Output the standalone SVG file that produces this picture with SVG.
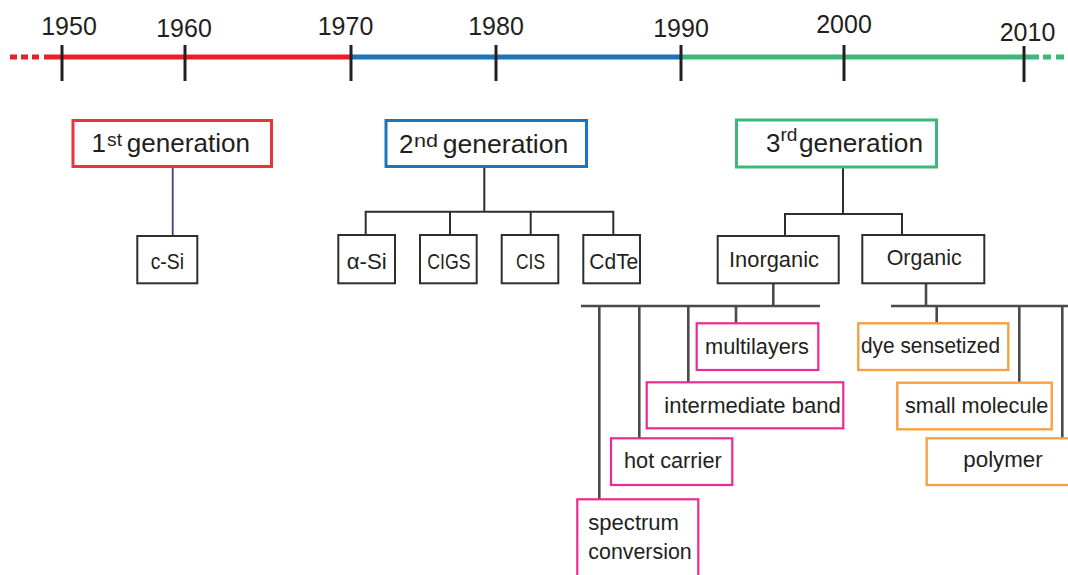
<svg xmlns="http://www.w3.org/2000/svg" width="1068" height="575" viewBox="0 0 1068 575">
<style>
text{font-family:"Liberation Sans",Arial,sans-serif;fill:#231f20}
.yr{font-size:25px;text-anchor:middle}
.gen{font-size:26px}
.sup{font-size:18px}
.lbl{font-size:22px}
.box{fill:#fff;stroke:#2e2e2e;stroke-width:2}
.pink{fill:#fff;stroke:#ec2a91;stroke-width:2.2}
.orng{fill:#fff;stroke:#f7a145;stroke-width:2.4}
.tick{stroke:#231f20;stroke-width:3}
.ln{stroke:#2e2e2e;stroke-width:2;fill:none}
.ln3{stroke:#4a4a4a;stroke-width:2.6;fill:none}
</style>
<rect width="1068" height="575" fill="#fff"/>
<g id="timeline">
<line x1="10" y1="57" x2="40" y2="57" stroke="#e8202a" stroke-width="5" stroke-dasharray="7,4"/>
<line x1="44" y1="57" x2="351" y2="57" stroke="#e8202a" stroke-width="5"/>
<line x1="351" y1="57" x2="681" y2="57" stroke="#1a75bc" stroke-width="5"/>
<line x1="681" y1="57" x2="1039" y2="57" stroke="#3cb878" stroke-width="5"/>
<line x1="1043" y1="57" x2="1068" y2="57" stroke="#3cb878" stroke-width="5" stroke-dasharray="8,5"/>
<line class="tick" x1="62" y1="45" x2="62" y2="81"/>
<line class="tick" x1="185" y1="45" x2="185" y2="81"/>
<line class="tick" x1="351" y1="45" x2="351" y2="81"/>
<line class="tick" x1="496" y1="45" x2="496" y2="81"/>
<line class="tick" x1="681" y1="45" x2="681" y2="81"/>
<line class="tick" x1="844" y1="45" x2="844" y2="81"/>
<line class="tick" x1="1024" y1="46" x2="1024" y2="82"/>
<text class="yr" x="69" y="34.5">1950</text>
<text class="yr" x="184" y="37">1960</text>
<text class="yr" x="345.5" y="34.5">1970</text>
<text class="yr" x="496" y="34.5">1980</text>
<text class="yr" x="681" y="37">1990</text>
<text class="yr" x="844" y="32.6">2000</text>
<text class="yr" x="1027.5" y="40.5">2010</text>
</g>
<g id="connectors">
<line x1="172.7" y1="167" x2="172.7" y2="236" stroke="#3d3d85" stroke-width="1.8"/>
<path class="ln" d="M484.3 167V211.7M365.7 235V211.7H613.3V235M450 211.7V235M530.7 211.7V235"/>
<path class="ln" d="M843 167V214M785 235V214H902V235"/>
<path class="ln3" d="M773.3 283.5V306M581 306H820M599.3 306V499.3M639.3 306V438.3M688.3 306V382.3M736 306V323.3"/>
<path class="ln3" d="M926 283.5V306M891 306H1068M936.7 306V323.3M1019.3 306V382.3M1062.3 306V438.3"/>
</g>
<g id="gen1">
<rect x="73" y="120.5" width="198.5" height="46" fill="#fff" stroke="#e8343c" stroke-width="3"/>
<text class="gen" x="91.5" y="151.7">1</text>
<text class="sup" x="107" y="146" textLength="15" lengthAdjust="spacingAndGlyphs">st</text>
<text class="gen" x="126.7" y="151.7" textLength="123.3" lengthAdjust="spacingAndGlyphs">generation</text>
</g>
<g id="gen2">
<rect x="386" y="120.5" width="200.5" height="46" fill="#fff" stroke="#1a75bc" stroke-width="3"/>
<text class="gen" x="399" y="152.7">2</text>
<text class="sup" x="414" y="146.5" textLength="24" lengthAdjust="spacingAndGlyphs">nd</text>
<text class="gen" x="442.7" y="152.7" textLength="125.6" lengthAdjust="spacingAndGlyphs">generation</text>
</g>
<g id="gen3">
<rect x="736.5" y="120" width="200" height="47" fill="#fff" stroke="#3cb878" stroke-width="3"/>
<text class="gen" x="766" y="151.7">3</text>
<text class="sup" x="780.5" y="140.5" textLength="17" lengthAdjust="spacingAndGlyphs">rd</text>
<text class="gen" x="799" y="151.7" textLength="124" lengthAdjust="spacingAndGlyphs">generation</text>
</g>
<g id="c-si">
<rect class="box" x="137.3" y="236" width="60" height="47.3"/>
<text class="lbl" x="150.7" y="269.3" textLength="33.3" lengthAdjust="spacingAndGlyphs">c-Si</text>
</g>
<g id="a-si">
<rect class="box" x="338.3" y="235" width="56.7" height="48.3"/>
<text class="lbl" x="346.7" y="269.3" textLength="40" lengthAdjust="spacingAndGlyphs">α-Si</text>
</g>
<g id="cigs">
<rect class="box" x="420" y="235" width="56.7" height="48.3"/>
<text class="lbl" x="427.3" y="269.3" textLength="43.4" lengthAdjust="spacingAndGlyphs">CIGS</text>
</g>
<g id="cis">
<rect class="box" x="501.7" y="235" width="56.6" height="48.3"/>
<text class="lbl" x="516" y="269.3" textLength="29" lengthAdjust="spacingAndGlyphs">CIS</text>
</g>
<g id="cdte">
<rect class="box" x="583.3" y="235" width="56.7" height="48.3"/>
<text class="lbl" x="589.3" y="269.3" textLength="49" lengthAdjust="spacingAndGlyphs">CdTe</text>
</g>
<g id="inorganic">
<rect class="box" x="717.7" y="236" width="121" height="47.3"/>
<text class="lbl" x="729" y="266.7" textLength="90" lengthAdjust="spacingAndGlyphs">Inorganic</text>
</g>
<g id="organic">
<rect class="box" x="862.3" y="235" width="122" height="48.3"/>
<text class="lbl" x="886.7" y="265" textLength="75" lengthAdjust="spacingAndGlyphs">Organic</text>
</g>
<g id="multilayers">
<rect class="pink" x="696.7" y="323.3" width="121.6" height="46.7"/>
<text class="lbl" x="705" y="354.3" textLength="104" lengthAdjust="spacingAndGlyphs">multilayers</text>
</g>
<g id="intermediate-band">
<rect class="pink" x="646.7" y="382.3" width="196.6" height="46"/>
<text class="lbl" x="664.3" y="413.3" textLength="176.4" lengthAdjust="spacingAndGlyphs">intermediate band</text>
</g>
<g id="hot-carrier">
<rect class="pink" x="611" y="438.3" width="121.3" height="46.7"/>
<text class="lbl" x="624" y="468.3" textLength="97.7" lengthAdjust="spacingAndGlyphs">hot carrier</text>
</g>
<g id="spectrum-conversion">
<rect class="pink" x="577.3" y="499.3" width="121" height="78"/>
<text class="lbl" x="588.3" y="530" textLength="90.7" lengthAdjust="spacingAndGlyphs">spectrum</text>
<text class="lbl" x="588.3" y="559.3" textLength="103.4" lengthAdjust="spacingAndGlyphs">conversion</text>
</g>
<g id="dye-sensetized">
<rect class="orng" x="858.3" y="323.3" width="150" height="46.7"/>
<text class="lbl" x="861" y="352.7" textLength="139" lengthAdjust="spacingAndGlyphs">dye sensetized</text>
</g>
<g id="small-molecule">
<rect class="orng" x="897.3" y="382.7" width="154.4" height="46.6"/>
<text class="lbl" x="905" y="412.7" textLength="143.3" lengthAdjust="spacingAndGlyphs">small molecule</text>
</g>
<g id="polymer">
<rect class="orng" x="926.7" y="438.3" width="150" height="46.7"/>
<text class="lbl" x="963.3" y="466.7" textLength="79.4" lengthAdjust="spacingAndGlyphs">polymer</text>
</g>
</svg>
